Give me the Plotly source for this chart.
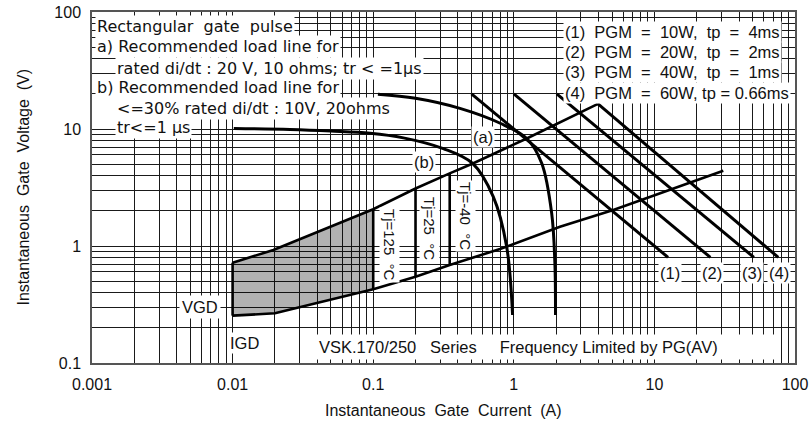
import plotly.graph_objects as go

# ---------------- data ----------------
# load line (a): 20 V, 10 ohm
curve_a_I = [0.108, 0.2, 0.414, 0.8, 1.236, 1.58, 1.86, 1.96, 1.98]
curve_a_V = [19.8, 18.3, 15.0, 11.2, 8.3, 5.1, 1.9, 0.71, 0.257]

# load line (b)
curve_b_I = [0.0102, 0.0256, 0.05, 0.095, 0.164, 0.315, 0.507, 0.714, 0.889, 0.98]
curve_b_V = [10.1, 9.9, 9.6, 9.2, 8.4, 6.8, 5.1, 2.64, 0.99, 0.257]

# upper / lower boundary of the gate characteristic
upper_I = [0.01, 0.0195, 0.1, 0.2, 0.35, 0.516, 1.236, 3.97]
upper_V = [0.72, 0.925, 2.06, 3.1, 4.18, 5.1, 8.3, 16.4]
lower_I = [0.01, 0.02, 0.1, 0.2, 0.35, 0.798, 2.13, 5.1, 30.9]
lower_V = [0.254, 0.266, 0.427, 0.545, 0.688, 0.943, 1.46, 2.03, 4.4]

# junction temperature trigger lines
tj_labels = ["Tj=125\u00a0\u00a0°C", "Tj=25\u00a0\u00a0°C", "Tj=-40\u00a0\u00a0°C"]
tj_I = [0.1, 0.2, 0.35]
tj_V_low = [0.427, 0.545, 0.688]
tj_V_high = [2.06, 3.1, 4.18]

# peak gate power lines
pgm_labels = ["(1)", "(2)", "(3)", "(4)"]
pgm_I_start = [0.5, 1.0, 2.02, 3.97]
pgm_V_start = [20.0, 20.0, 20.0, 16.4]
pgm_I_end = [12.5, 25.0, 51.0, 76.0]
pgm_V_end = [0.8, 0.8, 0.8, 0.8]
pgm_legend = [
    "(1)\u00a0\u00a0PGM\u00a0\u00a0=\u00a0\u00a010W,\u00a0\u00a0tp\u00a0\u00a0=\u00a0\u00a04ms",
    "(2)\u00a0\u00a0PGM\u00a0\u00a0=\u00a0\u00a020W,\u00a0\u00a0tp\u00a0\u00a0=\u00a0\u00a02ms",
    "(3)\u00a0\u00a0PGM\u00a0\u00a0=\u00a0\u00a040W,\u00a0\u00a0tp\u00a0\u00a0=\u00a0\u00a01ms",
    "(4)\u00a0\u00a0PGM\u00a0\u00a0=\u00a0\u00a060W,\u00a0tp\u00a0=\u00a00.66ms",
]

# axes
x_decades = [0.001, 0.01, 0.1, 1, 10, 100]
x_tick_labels = ["0.001", "0.01", "0.1", "1", "10", "100"]
y_decades = [0.1, 1, 10, 100]
y_tick_labels = ["0.1", "1", "10", "100"]
x_title = "Instantaneous\u00a0\u00a0Gate\u00a0\u00a0Current\u00a0\u00a0(A)"
y_title = "Instantaneous\u00a0\u00a0Gate\u00a0\u00a0Voltage\u00a0\u00a0(V)"

note_rows = [
    "Rectangular\u00a0\u00a0gate\u00a0\u00a0pulse",
    "a) Recommended load line for",
    "rated di/dt : 20 V, 10 ohms; tr < =1µs",
    "b) Recommended load line for",
    "<=30% rated di/dt : 10V, 20ohms",
    "tr<=1 µs",
]
footer = ("VSK.170/250\u00a0\u00a0\u00a0Series\u00a0\u00a0\u00a0\u00a0\u00a0Frequency Limited by PG(AV)"
          + "\u00a0" * 12)

# ---------------- layout helpers ----------------
W, H = 811, 426
L, R, T, B = 92, 16, 12, 63
PW, PH = W - L - R, H - T - B
SANS = "Liberation Sans, Arial, sans-serif"
WIDE = "DejaVu Sans, sans-serif"
INK = "#111111"


def px(x):
    return (x - L) / PW


def py(y):
    return (H - B - y) / PH


def grid_values(decades):
    vals = []
    for d in decades[:-1]:
        vals += [m * d for m in range(1, 10)]
    return vals + [decades[-1]]


def labels_for(vals, decades, names):
    out = []
    for v in vals:
        hit = [n for d, n in zip(decades, names) if abs(v / d - 1) < 1e-9]
        out.append(hit[0] if hit else "")
    return out


xg = grid_values(x_decades)
yg = grid_values(y_decades)

fig = go.Figure()

# shaded region (Tj=125 C area): upper boundary up to 0.1 A, back along lower boundary
n_up = sum(1 for i in upper_I if i <= 0.1)
n_lo = sum(1 for i in lower_I if i <= 0.1)
poly_I = [lower_I[0]] + upper_I[:n_up] + lower_I[:n_lo][::-1]
poly_V = [lower_V[0]] + upper_V[:n_up] + lower_V[:n_lo][::-1]
fig.add_trace(go.Scatter(x=poly_I, y=poly_V, mode="lines", fill="toself",
                         fillcolor="rgba(0,0,0,0.30)", line=dict(width=0),
                         hoverinfo="skip", showlegend=False))

line_style = dict(color="black", width=2.6)
# boundaries
fig.add_trace(go.Scatter(x=upper_I, y=upper_V, mode="lines", line=line_style, showlegend=False))
fig.add_trace(go.Scatter(x=lower_I, y=lower_V, mode="lines", line=line_style, showlegend=False))
# IGD vertical edge
fig.add_trace(go.Scatter(x=[lower_I[0], upper_I[0]], y=[lower_V[0], upper_V[0]],
                         mode="lines", line=line_style, showlegend=False))
# Tj lines
for i in range(len(tj_I)):
    fig.add_trace(go.Scatter(x=[tj_I[i], tj_I[i]], y=[tj_V_low[i], tj_V_high[i]],
                             mode="lines", line=line_style, showlegend=False))
# load lines
fig.add_trace(go.Scatter(x=curve_a_I, y=curve_a_V, mode="lines", line_shape="spline",
                         line=dict(color="black", width=3), showlegend=False))
fig.add_trace(go.Scatter(x=curve_b_I, y=curve_b_V, mode="lines", line_shape="spline",
                         line=dict(color="black", width=3), showlegend=False))
# power lines
for i in range(len(pgm_labels)):
    fig.add_trace(go.Scatter(x=[pgm_I_start[i], pgm_I_end[i]], y=[pgm_V_start[i], pgm_V_end[i]],
                             mode="lines", line=dict(color="black", width=3), showlegend=False))

anns = []


def ann(text, x, y, size=16.5, family=SANS, xanchor="center", angle=0, pad=1, bg="white"):
    anns.append(dict(text=text, x=px(x), y=py(y), xref="paper", yref="paper",
                     xanchor=xanchor, yanchor="middle", showarrow=False,
                     textangle=angle, bgcolor=bg, borderpad=pad,
                     font=dict(family=family, size=size, color=INK)))


# top-left note block
note_pos = [(95, 26.7), (95, 46.7), (115, 68), (95, 87), (115, 108), (115, 128)]
for t, (x, y) in zip(note_rows, note_pos):
    ann(t, x, y, size=16, family=WIDE, xanchor="left", pad=1)

# PGM legend
for i, t in enumerate(pgm_legend):
    ann(t, 563, [31.7, 51.7, 71.7, 93.3][i], xanchor="left", pad=1)

# power line end labels
for t, x in zip(pgm_labels, [670, 711.7, 751.7, 779.3]):
    ann(t, x, 273.3, pad=1)

ann("(a)", 483, 137)
ann("(b)", 424, 162)
for t, (x, y) in zip(tj_labels, [(390, 245), (430, 228), (465, 216)]):
    ann(t, x, y, size=15, angle=90, pad=1)
ann("VGD", 200, 307, pad=2)
ann("IGD", 228, 343, xanchor="left", pad=1)
ann(footer, 315, 347, xanchor="left", pad=3)

# axis titles
anns.append(dict(text=x_title, x=px(443.5), y=py(410), xref="paper", yref="paper",
                 xanchor="center", yanchor="middle", showarrow=False,
                 font=dict(family=SANS, size=16, color=INK)))
anns.append(dict(text=y_title, x=px(23), y=py(187.5), xref="paper", yref="paper",
                 xanchor="center", yanchor="middle", showarrow=False, textangle=-90,
                 font=dict(family=SANS, size=16, color=INK)))

axis_common = dict(type="log", showgrid=True, gridcolor="#1a1a1a", gridwidth=1,
                   showline=True, linecolor="#555555", linewidth=1.5, mirror=True,
                   ticks="", tickfont=dict(family=SANS, size=16, color=INK),
                   zeroline=False, fixedrange=True, automargin=False)

fig.update_layout(
    width=W, height=H,
    margin=dict(l=L, r=R, t=T, b=B, pad=0, autoexpand=False),
    paper_bgcolor="white", plot_bgcolor="white",
    showlegend=False,
    annotations=anns,
    xaxis=dict(range=[-3, 2], tickvals=xg, ticktext=labels_for(xg, x_decades, x_tick_labels),
               ticklabelstandoff=6, **axis_common),
    yaxis=dict(range=[-1, 2], tickvals=yg, ticktext=labels_for(yg, y_decades, y_tick_labels),
               ticklabelstandoff=6, **axis_common),
)

fig.write_html(
    "out.html",
    config={"displayModeBar": False},
    post_script="document.body.style.margin='0';document.body.style.overflow='hidden';",
)
